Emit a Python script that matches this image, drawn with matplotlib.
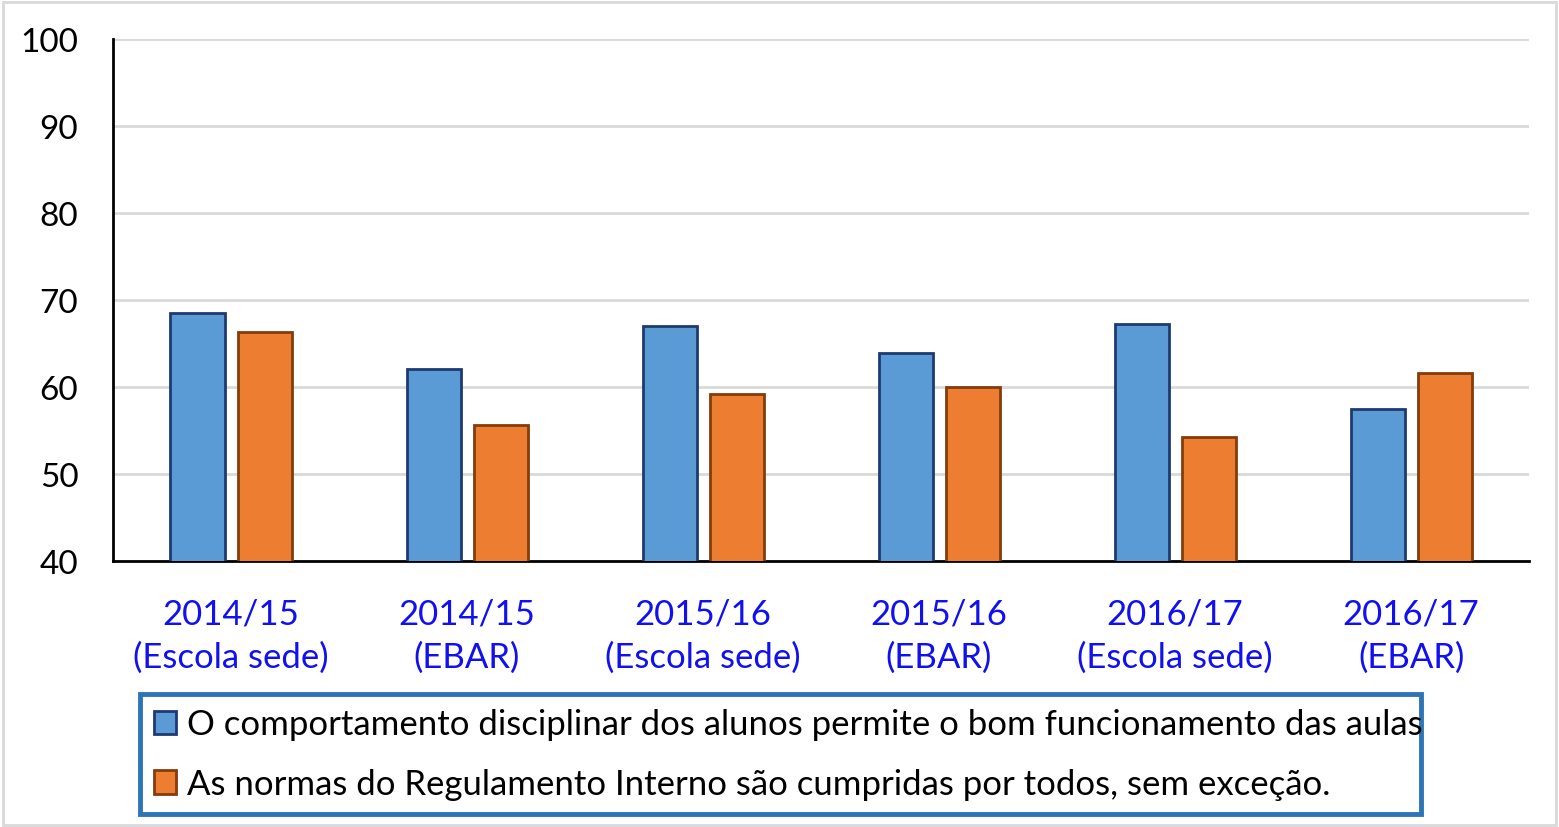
import matplotlib.pyplot as plt
import numpy as np
from matplotlib.patches import Rectangle

# dados
categorias = ['2014/15\n(Escola sede)', '2014/15\n(EBAR)',
              '2015/16\n(Escola sede)', '2015/16\n(EBAR)',
              '2016/17\n(Escola sede)', '2016/17\n(EBAR)']
comportamento = [68.5, 62.1, 67.0, 63.9, 67.2, 57.5]
normas = [66.3, 55.6, 59.2, 60.0, 54.3, 61.6]
serie1 = 'O comportamento disciplinar dos alunos permite o bom funcionamento das aulas'
serie2 = 'As normas do Regulamento Interno são cumpridas por todos, sem exceção.'

plt.rcParams['font.family'] = ['Lato', 'DejaVu Sans']

fig = plt.figure(figsize=(15.59, 8.28), dpi=100)
ax = fig.add_axes([0.0725, 0.3213, 0.9083, 0.6304])

x = np.arange(len(categorias))
w = 0.229
ax.bar(x - 0.142, comportamento, w, color='#5B9BD5',
       edgecolor='#1F3A70', linewidth=2, label=serie1, zorder=3)
ax.bar(x + 0.142, normas, w, color='#ED7D31',
       edgecolor='#843C0C', linewidth=2, label=serie2, zorder=3)

ax.set_ylim(40, 100)
ax.set_xlim(-0.5, len(categorias) - 0.5)
ax.set_yticks(range(40, 101, 10))
ax.grid(axis='y', color='#D9D9D9', linewidth=2, zorder=0)
ax.set_xticks(x)
ax.set_xticklabels(categorias, color='#1010F0', fontsize=25, linespacing=1.45)
ax.tick_params(axis='x', length=0, pad=26)
ax.tick_params(axis='y', length=0, pad=25, labelsize=24)
for s in ['top', 'right']:
    ax.spines[s].set_visible(False)
ax.spines['left'].set_linewidth(2)
ax.spines['bottom'].set_linewidth(2)

leg = fig.legend(loc='lower left', bbox_to_anchor=(0.0898, 0.0157, 0.822, 0.145),
                 mode='expand', fontsize=25, frameon=True, fancybox=False, framealpha=1,
                 handlelength=0.65, handleheight=0.65, handletextpad=0.3,
                 labelspacing=0.8, borderpad=0.4, borderaxespad=0)
leg.get_frame().set_edgecolor('#2E75B6')
leg.get_frame().set_linewidth(3.5)

# moldura clara da figura
fig.patches.append(Rectangle((0.002, 0.002), 0.996, 0.994, transform=fig.transFigure,
                             fill=False, edgecolor='#D9D9D9', linewidth=2))

fig.savefig('out.png', dpi=100)
